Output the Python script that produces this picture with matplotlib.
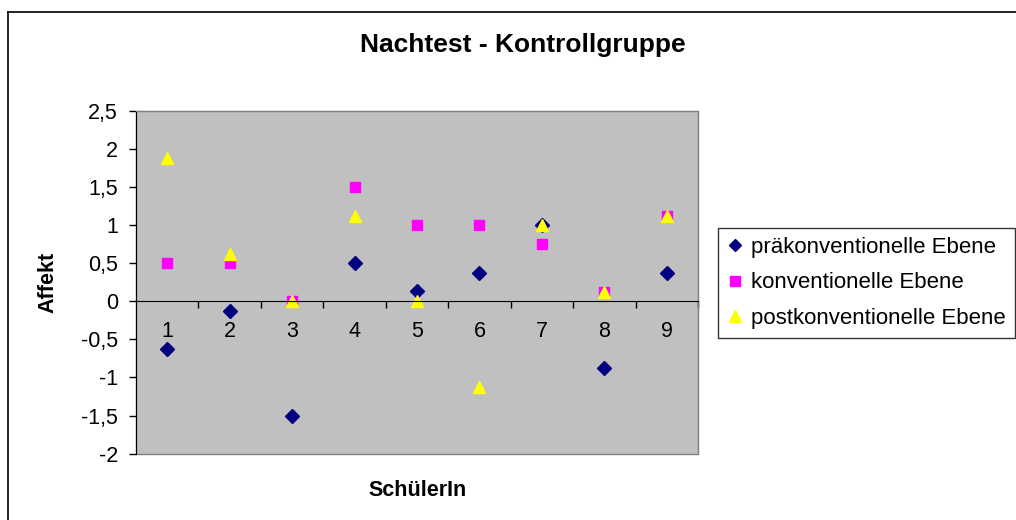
import matplotlib.pyplot as plt
from matplotlib.lines import Line2D
from matplotlib.patches import Rectangle

plt.rcParams['font.family'] = ['Liberation Sans', 'DejaVu Sans']

# Daten
schueler = [1, 2, 3, 4, 5, 6, 7, 8, 9]
praekonv = [-0.625, -0.125, -1.5, 0.5, 0.14, 0.375, 1.0, -0.875, 0.375]
konv = [0.5, 0.5, 0.0, 1.5, 1.0, 1.0, 0.75, 0.125, 1.125]
postkonv = [1.875, 0.625, 0.0, 1.125, 0.0, -1.125, 1.0, 0.125, 1.125]

y_ticks = [2.5, 2, 1.5, 1, 0.5, 0, -0.5, -1, -1.5, -2]
y_labels = ['2,5', '2', '1,5', '1', '0,5', '0', '-0,5', '-1', '-1,5', '-2']

fig = plt.figure(figsize=(10.16, 5.2), dpi=100)
ax = fig.add_axes([136/1016, 1-453.7/520, 562/1016, 343/520])
ax.set_facecolor('#C0C0C0')

ax.plot(schueler, praekonv, linestyle='none', marker='D', markersize=7,
        color='#000080', label='präkonventionelle Ebene')
ax.plot(schueler, konv, linestyle='none', marker='s', markersize=7.5,
        color='#FF00FF', label='konventionelle Ebene')
ax.plot(schueler, postkonv, linestyle='none', marker='^', markersize=9,
        color='#FFFF00', label='postkonventionelle Ebene')

ax.set_xlim(0.5, 9.5)
ax.set_ylim(-2, 2.5)

# y-Achse
ax.set_yticks(y_ticks)
ax.set_yticklabels(y_labels, fontsize=15.5)
ax.tick_params(axis='y', direction='out', length=5, width=1, pad=8)

# x-Achse bei 0
ax.spines['bottom'].set_position(('data', 0))
ax.set_xticks([k + 0.5 for k in schueler])
ax.set_xticklabels([])
ax.set_xticks(schueler, minor=True)
ax.set_xticklabels([str(s) for s in schueler], minor=True, fontsize=15.5)
ax.tick_params(axis='x', which='major', direction='out', length=5, width=1)
ax.tick_params(axis='x', which='minor', length=0, pad=14)

for side in ['top', 'right']:
    ax.spines[side].set_color('#808080')
ax.add_patch(Rectangle((0, 0), 1, 1, transform=ax.transAxes, fill=False,
                       edgecolor='#808080', linewidth=1, clip_on=False, zorder=0.5))

fig.text(523/1016, 1-45/520, 'Nachtest - Kontrollgruppe', fontsize=19,
         fontweight='bold', ha='center', va='center')
fig.text(418/1016, 1-491/520, 'SchülerIn', fontsize=15.5, fontweight='bold',
         ha='center', va='center')
fig.text(48/1016, 1-282/520, 'Affekt', fontsize=15.5, fontweight='bold',
         ha='center', va='center', rotation=90)

leg = fig.legend(loc='upper left', bbox_to_anchor=(718/1016, 1-228/520),
                 fontsize=16, frameon=True, fancybox=False, markerscale=0.9,
                 handlelength=0.7, handletextpad=0.4, borderpad=0.4,
                 labelspacing=0.65, borderaxespad=0)
leg.get_frame().set_edgecolor('black')
leg.get_frame().set_linewidth(1)

# Rahmen
fig.add_artist(Line2D([8/1016, 1], [1-12/520, 1-12/520], color='black', linewidth=1.2))
fig.add_artist(Line2D([8/1016, 8/1016], [0, 1-12/520], color='black', linewidth=1.2))

fig.savefig('out.png', dpi=100)
